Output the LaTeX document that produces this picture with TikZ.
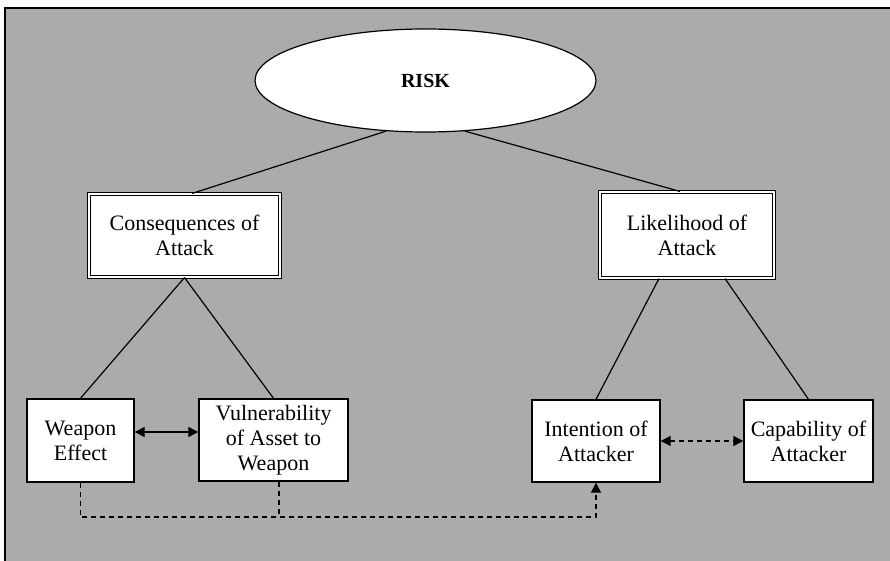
\documentclass[tikz,border=0pt]{standalone}
\usepackage{fontspec}
\setmainfont{Liberation Serif}
\usepackage{tikz}
\usetikzlibrary{shapes.geometric}
\usetikzlibrary{positioning}
\usetikzlibrary{arrows.meta}
\definecolor{panelgray}{RGB}{171,171,171}

\begin{document}
\begin{tikzpicture}[x=0.5pt,y=-0.5pt,
        box/.style={draw,rectangle,fill=white,line width=0.7pt,align=center,inner sep=0pt,font=\fontsize{11}{12.5}\selectfont},
        dblbox/.style={box,double,double distance=0.9pt,line width=0.55pt},
        link/.style={line width=0.6pt},
        dashlink/.style={link,dash pattern=on 2.5pt off 2pt}]
        \useasboundingbox (0,0) rectangle (890,561);
        \fill[panelgray] (5,8) rectangle (900,570);
        \draw[line width=0.9pt] (5,570) -- (5,8) -- (900,8);
        \node[draw,ellipse,fill=white,line width=0.6pt,minimum width=170.5pt,minimum height=51.5pt,inner sep=0pt,font=\fontsize{10}{12}\selectfont\bfseries] (risk) at (425.5,80.5) {RISK};
        \node[dblbox,minimum width=95.5pt,minimum height=41.5pt] (cons) at (184.5,235.5) {Consequences of\\Attack};
        \node[dblbox,minimum width=87pt,minimum height=43pt] (like) at (687,235) {Likelihood of\\Attack};
        \node[box,minimum width=53.5pt,minimum height=41.5pt] (weapon) at (80.5,440.5) {Weapon\\Effect};
        \node[box,minimum width=74.5pt,minimum height=41pt] (vuln) at (273.5,440) {Vulnerability\\of Asset to\\Weapon};
        \node[box,minimum width=64pt,minimum height=41pt] (intent) at (596,441) {Intention of\\Attacker};
        \node[box,minimum width=64.5pt,minimum height=41pt] (capab) at (808.5,441) {Capability of\\Attacker};
        \coordinate (dashrow) at (0,517);
        \draw[link] (risk.232) -- ([xshift=3.75pt]cons.north);
        \draw[link] (risk.308) -- ([xshift=-3.5pt]like.north);
        \draw[link] (cons.south) -- (weapon.north);
        \draw[link] (cons.south) -- (vuln.north);
        \draw[link] ([xshift=-14pt]like.south) -- (intent.north);
        \draw[link] ([xshift=19pt]like.south) -- (capab.north);
        \draw[link,{Triangle[length=5pt,width=5pt]}-{Triangle[length=5pt,width=5pt]}] ([yshift=4.25pt]weapon.east) -- ([yshift=4.25pt]weapon.east -| vuln.west);
        \draw[dashlink,{Triangle[length=5pt,width=5pt]}-{Triangle[length=5pt,width=5pt]}] (intent.east) -- (capab.west);
        \draw[dashlink,-{Triangle[length=5pt,width=5pt]}] (weapon.south) |- (dashrow -| intent.south) -- (intent.south);
        \draw[dashlink] ([xshift=2.75pt]vuln.south) -- ([xshift=2.75pt]vuln.south |- dashrow);
    \end{tikzpicture}
\end{document}
